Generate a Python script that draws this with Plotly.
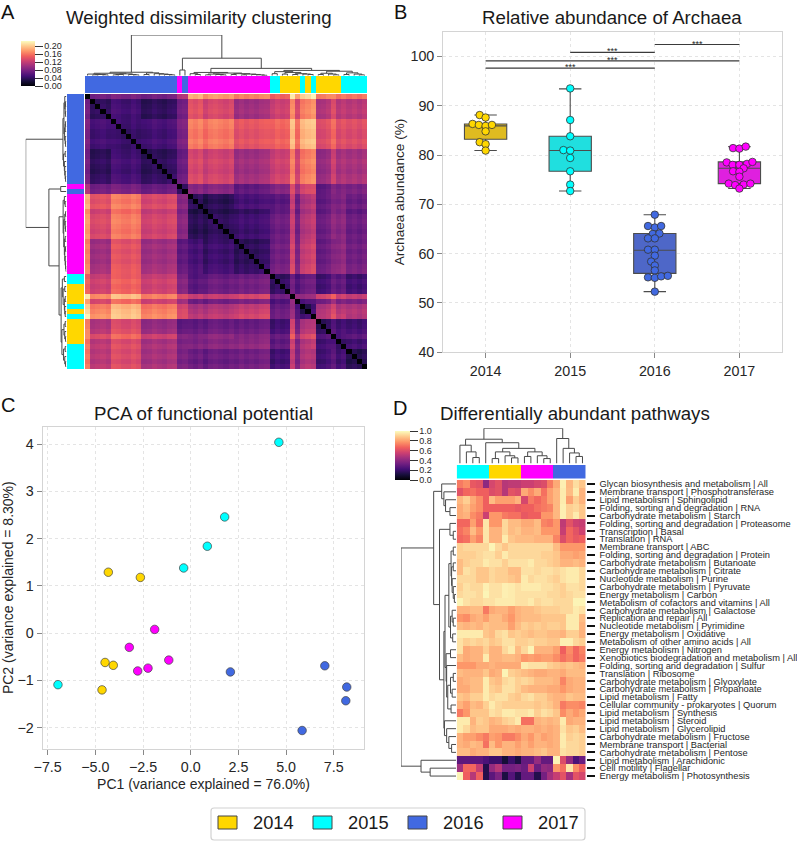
import numpy as np
import plotly.graph_objects as go
from plotly.colors import sequential

W, H = 797, 841
FONT = "Liberation Sans"
TEXT = "#262626"

YEARS = ["2014", "2015", "2016", "2017"]
YEAR_COLORS = ["#FFD700", "#00FFFF", "#4169E1", "#FF00FF"]
BOX_COLORS = ["#DFBB20", "#20DFDF", "#4E67C8", "#DF20DF"]

# panel A, sample order after clustering (index into YEARS)
A_SAMPLE_YEARS = [2] * 18 + [3] + [2] + [3] * 16 + [1] * 2 + [0] * 4 + [1] + [0] + [1] + [0] * 5 + [1] * 5
# runs of samples that look alike in the heatmap
A_SEGMENTS = [1, 4, 6, 7, 2, 3, 6, 7, 4, 1, 1, 2, 1, 3, 1, 2, 4]
# dissimilarity x 1000, upper triangle of the segment table
A_BLOCKS = [
    [0, 75, 80, 75, 110, 185, 175, 165, 150, 215, 180, 205, 220, 165, 170, 160, 160],
    [40, 50, 38, 75, 138, 130, 100, 125, 170, 130, 165, 175, 110, 135, 115, 115],
    [45, 50, 80, 162, 160, 140, 150, 195, 155, 192, 198, 135, 155, 135, 135],
    [38, 70, 130, 125, 100, 125, 165, 125, 162, 170, 95, 125, 105, 105],
    [40, 85, 85, 65, 85, 135, 100, 130, 135, 65, 85, 80, 80],
    [35, 32, 50, 60, 120, 70, 105, 115, 65, 80, 80, 70],
    [35, 45, 70, 120, 72, 108, 118, 70, 90, 85, 70],
    [38, 75, 130, 80, 120, 130, 70, 85, 90, 75],
    [42, 75, 55, 70, 75, 50, 70, 65, 50],
    [0, 95, 95, 100, 130, 150, 125, 120],
    [0, 55, 60, 75, 100, 80, 80],
    [30, 50, 110, 130, 110, 110],
    [0, 115, 140, 120, 110],
    [40, 60, 50, 50],
    [0, 55, 65],
    [40, 50],
    [35],
]
# lighter or darker rows and columns inside a run, x 1000
A_SAMPLE_SHIFT = [0, -3, 0, 3, -2, 4, 2, -3, -4, 3, -2, -4, -2, 4, 0, -3, 3, 5, -2, 2, 3, -2, 5, -6, 3, 6, 2, -2, 4,
                  -4, 3, -3, 2, -2, 4, 6, -5, 3, -2, 2, 0, 0, -3, 3, 0, -4, -2, 4, 0, -3, 4, -3, 2, -4, 3]
A_MAG = [.08, [.05, 20, [.03, 21, 22]],
         [.065, [.04, [.02, 23, 24], [.03, 25, [.02, 26, 27]]],
          [.05, [.03, 28, 29], [.04, [.02, 30, 31], [.03, 32, [.02, 33, [.01, 34, 35]]]]]]]
A_BLUE = [.085, [.06, [.04, 0, [.03, [.02, 1, 2], [.02, 3, 4]]], [.045, [.03, [.02, 5, 6], 7], [.03, 8, [.02, 9, 10]]]],
          [.07, [.03, 11, 12], [.05, 13, [.04, 14, [.03, 15, [.02, 16, 17]]]]]]
A_MIX = [.13, [.1, [.05, 36, 37], [.08, [.04, 38, 39], [.05, [.03, 40, 41], [.04, 42, [.03, 43, 44]]]]],
         [.11, [.06, [.03, 45, 46], [.04, 47, [.02, 48, 49]]], [.07, [.03, 50, 51], [.04, 52, [.02, 53, 54]]]]]
A_TREE = [1.0, A_BLUE, [.43, [.14, 18, 19], [.18, A_MAG, A_MIX]]]

# panel B, box statistics and points
B_Q1 = [83.2, 76.7, 56.0, 74.2]
B_MEDIAN = [85.9, 80.9, 60.7, 77.3]
B_Q3 = [86.3, 83.8, 64.1, 78.6]
B_LOW = [80.9, 72.7, 52.3, 73.2]
B_HIGH = [88.1, 93.4, 67.9, 81.7]
B_OFFSETS = [
    [-.07, 0, -.154, -.08, 0, .075, 0, -.07, 0, 0],
    [0, 0, 0, -.08, 0, 0, 0, 0, 0],
    [0, -.08, 0, .075, -.024, .055, -.08, 0, -.08, 0, 0, -.043, 0, 0, -.08, 0, .075, .154, 0],
    [-.075, 0, .075, -.15, -.08, 0, .09, .154, .05, -.075, 0, 0, -.126, -.05, .05, .13, 0],
]
B_VALUES = [
    [88.1, 87.6, 86.3, 86.1, 85.9, 86.1, 84.8, 82.6, 82.2, 80.9],
    [93.5, 87.1, 83.8, 81.0, 80.9, 79.4, 76.7, 74.0, 72.7],
    [67.9, 65.6, 65.3, 65.6, 64.0, 64.1, 63.1, 63.1, 60.8, 60.8, 59.6, 58.4, 57.6, 56.6, 55.2, 55.1, 55.4, 55.5, 52.3],
    [81.4, 81.3, 81.7, 78.5, 78.0, 78.0, 78.2, 78.6, 77.3, 76.7, 76.6, 75.6, 74.2, 73.9, 74.0, 74.2, 73.2],
]
# significance brackets: first group, second group, height, star position
B_BRACKETS = [(0, 2, 97.6, 1.0), (0, 3, 99.1, 1.5), (1, 2, 100.8, 1.5), (2, 3, 102.4, 2.5)]

# panel C
C_PC1 = [[-4.32, -2.64, -4.49, -4.06, -4.65], [4.62, 1.78, 0.87, -0.37, -6.96],
         [2.08, 7.03, 8.18, 8.13, 5.84], [-1.89, -3.22, -1.15, -2.24, -2.78]]
C_PC2 = [[1.29, 1.18, -0.62, -0.68, -1.2], [4.04, 2.46, 1.84, 1.38, -1.09],
         [-0.82, -0.69, -1.14, -1.43, -2.06], [0.08, -0.30, -0.57, -0.74, -0.80]]

# panel D
D_SAMPLE_YEARS = [1] * 5 + [0] * 5 + [3] * 5 + [2] * 5
D_PATHWAYS = [
    "Glycan biosynthesis and metabolism | All", "Membrane transport | Phosphotransferase",
    "Lipid metabolism | Sphingolipid", "Folding, sorting and degradation | RNA",
    "Carbohydrate metabolism | Starch", "Folding, sorting and degradation | Proteasome",
    "Transcription | Basal", "Translation | RNA", "Membrane transport | ABC",
    "Folding, sorting and degradation | Protein", "Carbohydrate metabolism | Butanoate",
    "Carbohydrate metabolism | Citrate", "Nucleotide metabolism | Purine",
    "Carbohydrate metabolism | Pyruvate", "Energy metabolism | Carbon",
    "Metabolism of cofactors and vitamins | All", "Carbohydrate metabolism | Galactose",
    "Replication and repair | All", "Nucleotide metabolism | Pyrimidine",
    "Energy metabolism | Oxidative", "Metabolism of other amino acids | All",
    "Energy metabolism | Nitrogen", "Xenobiotics biodegradation and metabolism | All",
    "Folding, sorting and degradation | Sulfur", "Translation | Ribosome",
    "Carbohydrate metabolism | Glyoxylate", "Carbohydrate metabolism | Propanoate",
    "Lipid metabolism | Fatty", "Cellular community - prokaryotes | Quorum",
    "Lipid metabolism | Synthesis", "Lipid metabolism | Steroid",
    "Lipid metabolism | Glycerolipid", "Carbohydrate metabolism | Fructose",
    "Membrane transport | Bacterial", "Carbohydrate metabolism | Pentose",
    "Lipid metabolism | Arachidonic", "Cell motility | Flagellar",
    "Energy metabolism | Photosynthesis",
]
D_VALUES = [
    [72, 76, 64, 62, 40, 58, 62, 50, 52, 52, 55, 55, 58, 60, 72, 82, 97, 85, 93, 88],
    [62, 68, 70, 66, 66, 60, 62, 50, 62, 60, 82, 76, 82, 70, 80, 85, 96, 86, 96, 84],
    [85, 90, 82, 76, 66, 86, 80, 80, 80, 84, 58, 72, 68, 72, 80, 85, 96, 80, 90, 84],
    [82, 86, 80, 76, 66, 66, 66, 66, 66, 64, 66, 66, 70, 72, 74, 85, 97, 90, 92, 88],
    [82, 84, 76, 72, 55, 78, 78, 72, 70, 70, 64, 66, 66, 78, 78, 85, 97, 90, 96, 88],
    [68, 68, 80, 70, 95, 78, 78, 92, 86, 86, 82, 82, 86, 74, 72, 78, 52, 62, 56, 54],
    [70, 74, 86, 78, 95, 84, 84, 92, 86, 88, 84, 84, 86, 78, 78, 78, 54, 68, 62, 56],
    [68, 70, 80, 74, 95, 84, 84, 96, 88, 86, 86, 86, 84, 84, 84, 74, 60, 68, 64, 66],
    [90, 92, 92, 92, 92, 98, 92, 88, 92, 92, 92, 92, 92, 92, 92, 86, 78, 78, 78, 78],
    [90, 90, 90, 92, 94, 94, 90, 96, 92, 92, 92, 92, 92, 90, 90, 88, 82, 82, 80, 82],
    [86, 90, 92, 92, 96, 94, 94, 90, 94, 94, 94, 96, 92, 92, 90, 88, 84, 84, 86, 84],
    [86, 94, 92, 88, 88, 92, 90, 90, 86, 86, 94, 94, 92, 94, 94, 92, 94, 96, 96, 92],
    [92, 92, 92, 88, 88, 92, 90, 90, 88, 86, 96, 92, 94, 94, 92, 90, 94, 96, 96, 92],
    [90, 94, 92, 92, 97, 94, 94, 97, 96, 94, 96, 96, 96, 94, 94, 92, 90, 94, 94, 92],
    [92, 94, 94, 92, 98, 94, 94, 97, 96, 94, 94, 94, 94, 94, 92, 92, 90, 92, 94, 94],
    [98, 94, 92, 92, 94, 94, 96, 96, 96, 94, 94, 96, 92, 94, 94, 92, 92, 92, 98, 98],
    [84, 84, 86, 86, 72, 82, 84, 84, 80, 84, 86, 86, 88, 90, 90, 90, 92, 92, 96, 94],
    [78, 76, 82, 84, 80, 86, 86, 82, 78, 84, 86, 86, 86, 88, 88, 88, 88, 96, 96, 86],
    [86, 84, 86, 84, 88, 86, 86, 86, 80, 86, 90, 88, 90, 88, 90, 90, 88, 96, 96, 84],
    [96, 96, 96, 96, 88, 86, 92, 94, 88, 90, 88, 86, 88, 88, 86, 86, 84, 90, 90, 84],
    [94, 90, 92, 90, 92, 88, 90, 94, 94, 90, 90, 92, 90, 90, 88, 88, 97, 97, 92, 90],
    [94, 82, 84, 84, 90, 84, 84, 92, 96, 86, 92, 98, 84, 84, 84, 80, 66, 76, 68, 74],
    [86, 82, 84, 84, 96, 84, 84, 86, 86, 84, 78, 80, 78, 80, 80, 76, 70, 74, 68, 72],
    [78, 78, 78, 82, 82, 84, 82, 82, 82, 82, 96, 94, 94, 94, 90, 88, 86, 88, 86, 84],
    [86, 84, 84, 84, 88, 82, 84, 98, 90, 88, 86, 84, 82, 82, 84, 84, 82, 86, 86, 86],
    [82, 84, 86, 86, 96, 88, 86, 92, 94, 90, 92, 90, 86, 86, 86, 84, 74, 82, 84, 84],
    [82, 82, 86, 86, 96, 90, 88, 94, 94, 90, 86, 84, 84, 84, 82, 82, 78, 82, 84, 84],
    [88, 86, 90, 90, 96, 92, 94, 94, 90, 88, 92, 94, 90, 90, 86, 84, 84, 88, 86, 86],
    [84, 80, 86, 84, 90, 96, 92, 90, 90, 90, 90, 90, 88, 90, 88, 84, 72, 76, 76, 74],
    [72, 78, 88, 88, 88, 94, 92, 96, 96, 94, 94, 96, 90, 94, 92, 88, 76, 82, 78, 82],
    [96, 96, 84, 90, 88, 84, 86, 90, 92, 96, 70, 70, 84, 86, 84, 86, 96, 82, 84, 84],
    [96, 92, 86, 88, 88, 82, 82, 82, 84, 82, 84, 84, 82, 84, 82, 84, 94, 88, 90, 86],
    [84, 80, 80, 76, 72, 80, 78, 72, 72, 76, 82, 78, 84, 80, 82, 84, 96, 90, 92, 90],
    [84, 82, 86, 84, 70, 86, 78, 84, 84, 80, 84, 80, 84, 84, 82, 84, 96, 92, 92, 90],
    [86, 86, 82, 84, 84, 88, 88, 84, 84, 82, 84, 84, 86, 88, 84, 84, 94, 92, 92, 90],
    [28, 28, 28, 28, 24, 20, 20, 10, 20, 12, 30, 30, 42, 30, 30, 98, 60, 42, 24, 32],
    [45, 68, 68, 54, 14, 42, 50, 34, 34, 36, 32, 56, 32, 42, 40, 78, 70, 95, 76, 66],
    [98, 66, 50, 66, 14, 28, 36, 12, 26, 14, 30, 30, 14, 34, 46, 54, 62, 46, 62, 58],
]
D_TOP_TREE = [1.0, [.69, [.52, 0, [.33, 1, [.17, 2, 3]]],
                    [.59, 4, [.43, [.33, [.14, 5, 6], [.22, 7, [.16, 8, 9]]],
                              [.33, [.2, 10, 11], [.22, 12, [.14, 13, 14]]]]]],
              [.71, 15, [.43, 16, [.3, 17, [.2, 18, 19]]]]]
D_LEFT_TREE = [1.0, [.406, [.26, 0, [.22, 1, [.19, 2, [.11, 3, 4]]]],
                     [.30, [.11, 5, [.05, 6, 7]],
                      [.22, [.2, [.13, [.09, [.05, 8, 9], [.08, [.05, 10, 11], [.07, 12, [.05, 13, [.03, 14, 15]]]]],
                                  [.1, [.07, 16, [.05, 17, 18]], [.06, 19, 20]]],
                             [.18, [.1, 21, 22], [.17, 23, [.15, [.1, [.05, 24, 25], [.07, 26, 27]], [.09, 28, 29]]]]],
                       [.21, 30, [.17, 31, [.13, 32, [.08, 33, 34]]]]]]],
               [.636, 35, [.47, 36, 37]]]


def dom_x(left, right):
    return [left / W, right / W]


def dom_y(top, bottom):
    return [1 - bottom / H, 1 - top / H]


def walk_tree(node, xs, ys):
    # returns leaf position and height of a node, collects its bracket
    if not isinstance(node, list):
        return node, 0
    h, a, b = node
    pa, ha = walk_tree(a, xs, ys)
    pb, hb = walk_tree(b, xs, ys)
    xs += [pa, pa, pb, pb, None]
    ys += [ha, h, h, hb, None]
    return (pa + pb) / 2, h


def tree_trace(tree, xa, ya, flip=False):
    pos, height = [], []
    walk_tree(tree, pos, height)
    x, y = (height, pos) if flip else (pos, height)
    return go.Scatter(x=x, y=y, xaxis=xa, yaxis=ya, mode="lines", showlegend=False, hoverinfo="skip",
                      line=dict(color="#4a4a4a", width=1))


def hidden(domain, rng, anchor):
    return dict(domain=domain, range=rng, visible=False, fixedrange=True, anchor=anchor)


year_scale = [[0, YEAR_COLORS[0]], [.25, YEAR_COLORS[0]], [.25, YEAR_COLORS[1]], [.5, YEAR_COLORS[1]],
              [.5, YEAR_COLORS[2]], [.75, YEAR_COLORS[2]], [.75, YEAR_COLORS[3]], [1, YEAR_COLORS[3]]]
magma = sequential.Magma


def strip(codes, xa, ya, vertical=False):
    z = [[c] for c in codes] if vertical else [codes]
    return go.Heatmap(z=z, xaxis=xa, yaxis=ya, colorscale=year_scale, zmin=0, zmax=3, showscale=False, hoverinfo="skip")


# expand segment table to samples
n_seg = len(A_SEGMENTS)
table = np.zeros((n_seg, n_seg))
for i, row in enumerate(A_BLOCKS):
    table[i, i:] = row
    table[i:, i] = row
dist = np.repeat(np.repeat(table, A_SEGMENTS, axis=0), A_SEGMENTS, axis=1)
shift = np.array(A_SAMPLE_SHIFT)
dist = (dist + shift[:, None] + shift[None, :]) / 1000
np.fill_diagonal(dist, 0)

fig = go.Figure()

# panel A
fig.add_trace(go.Heatmap(z=dist, xaxis="x", yaxis="y", colorscale=magma, zmin=0, zmax=.225, hoverinfo="skip",
                         colorbar=dict(x=21 / W, xanchor="left", y=1 - 86 / H, yanchor="bottom", thickness=14,
                                       lenmode="pixels", len=45, xpad=0, ypad=0, outlinewidth=0,
                                       tickvals=[0, .04, .08, .12, .16, .20], ticktext=["0.00", "0.04", "0.08", "0.12", "0.16", "0.20"],
                                       ticks="outside", ticklen=8, tickwidth=1.2, tickcolor="#333",
                                       tickfont=dict(size=9, color=TEXT, family=FONT))))
fig.add_trace(strip(A_SAMPLE_YEARS, "x2", "y2"))
fig.add_trace(strip(A_SAMPLE_YEARS, "x3", "y3", vertical=True))
fig.add_trace(tree_trace(A_TREE, "x4", "y4"))
fig.add_trace(tree_trace(A_TREE, "x5", "y5", flip=True))

# panel B
for k, year in enumerate(YEARS):
    fig.add_trace(go.Box(x=[k], q1=[B_Q1[k]], median=[B_MEDIAN[k]], q3=[B_Q3[k]], lowerfence=[B_LOW[k]],
                         upperfence=[B_HIGH[k]], width=.5, whiskerwidth=.53, fillcolor=BOX_COLORS[k],
                         line=dict(color="#4c4c4c", width=1.1), xaxis="x6", yaxis="y6",
                         showlegend=False, hoverinfo="skip", boxpoints=False))
for k, year in enumerate(YEARS):
    fig.add_trace(go.Scatter(x=[k + o for o in B_OFFSETS[k]], y=B_VALUES[k], xaxis="x6", yaxis="y6", mode="markers",
                             showlegend=False, name=year,
                             marker=dict(size=7.5, color=YEAR_COLORS[k], line=dict(color="#333", width=.8))))
for a, b, level, star in B_BRACKETS:
    fig.add_trace(go.Scatter(x=[a, b], y=[level, level], xaxis="x6", yaxis="y6", mode="lines", showlegend=False,
                             hoverinfo="skip", line=dict(color="#3a3a3a", width=1.2)))
    fig.add_annotation(x=star, y=level, xref="x6", yref="y6", text="***", showarrow=False, yshift=1,
                       font=dict(size=9, color=TEXT, family=FONT))

# panel C
for k, year in enumerate(YEARS):
    fig.add_trace(go.Scatter(x=C_PC1[k], y=C_PC2[k], xaxis="x7", yaxis="y7", mode="markers", showlegend=False, name=year,
                             marker=dict(size=8.5, color=YEAR_COLORS[k], line=dict(color="#444", width=.7))))

# panel D
fig.add_trace(go.Heatmap(z=np.array(D_VALUES) / 100, xaxis="x8", yaxis="y8", colorscale=magma, zmin=0, zmax=1, hoverinfo="skip",
                         colorbar=dict(x=395 / W, xanchor="left", y=1 - 480 / H, yanchor="bottom", thickness=15,
                                       lenmode="pixels", len=49, xpad=0, ypad=0, outlinewidth=0,
                                       tickvals=[0, .2, .4, .6, .8, 1], ticktext=["0.0", "0.2", "0.4", "0.6", "0.8", "1.0"],
                                       ticks="outside", ticklen=8, tickwidth=1.2, tickcolor="#333",
                                       tickfont=dict(size=9, color=TEXT, family=FONT))))
fig.add_trace(strip(D_SAMPLE_YEARS, "x9", "y9"))
fig.add_trace(tree_trace(D_TOP_TREE, "x10", "y10"))
fig.add_trace(tree_trace(D_LEFT_TREE, "x11", "y11", flip=True))

axis_style = dict(showgrid=True, gridcolor="#e4e4e4", griddash="dot", gridwidth=.8, zeroline=False, showline=True,
                  mirror=True, linecolor="#d4d4d4", linewidth=1.2, ticks="outside", ticklen=5, tickcolor="#888",
                  tickfont=dict(size=14.3, color=TEXT, family=FONT), fixedrange=True)

n_a = len(A_SAMPLE_YEARS)
n_d = len(D_SAMPLE_YEARS)
n_p = len(D_PATHWAYS)
fig.update_layout(
    width=W, height=H, margin=dict(l=0, r=0, t=0, b=0, autoexpand=False), paper_bgcolor="white", plot_bgcolor="white",
    font=dict(family=FONT, color=TEXT), showlegend=False,
    xaxis=hidden(dom_x(85, 367), [-.5, n_a - .5], "y"), yaxis=hidden(dom_y(94, 369), [n_a - .5, -.5], "x"),
    xaxis2=hidden(dom_x(85, 367), [-.5, n_a - .5], "y2"), yaxis2=hidden(dom_y(76, 93), [-.5, .5], "x2"),
    xaxis3=hidden(dom_x(67, 84), [-.5, .5], "y3"), yaxis3=hidden(dom_y(94, 369), [n_a - .5, -.5], "x3"),
    xaxis4=hidden(dom_x(85, 367), [-.5, n_a - .5], "y4"), yaxis4=hidden(dom_y(35, 75.7), [0, 1], "x4"),
    xaxis5=hidden(dom_x(25.7, 66.4), [1, 0], "y5"), yaxis5=hidden(dom_y(94, 369), [n_a - .5, -.5], "x5"),
    xaxis6=dict(axis_style, domain=dom_x(443.3, 781.7), range=[-.5, 3.5], tickvals=list(range(4)), ticktext=YEARS, anchor="y6"),
    yaxis6=dict(axis_style, domain=dom_y(31.7, 352.3), range=[40, 105], tickvals=[40, 50, 60, 70, 80, 90, 100], anchor="x6",
                title=dict(text="Archaea abundance (%)", font=dict(size=13.6, color=TEXT, family=FONT), standoff=2)),
    xaxis7=dict(axis_style, domain=dom_x(42.7, 364.3), range=[-7.76, 9.1], tickvals=[-7.5, -5, -2.5, 0, 2.5, 5, 7.5], anchor="y7",
                ticktext=["\u22127.5", "\u22125.0", "\u22122.5", "0.0", "2.5", "5.0", "7.5"],
                title=dict(text="PC1 (variance explained = 76.0%)", font=dict(size=14, color=TEXT, family=FONT), standoff=5)),
    yaxis7=dict(axis_style, domain=dom_y(426.7, 748.7), range=[-2.445, 4.37], tickvals=[-2, -1, 0, 1, 2, 3, 4], anchor="x7",
                ticktext=["\u22122", "\u22121", "0", "1", "2", "3", "4"],
                title=dict(text="PC2 (variance explained = 8.30%)", font=dict(size=14, color=TEXT, family=FONT), standoff=8)),
    xaxis8=hidden(dom_x(456.7, 585.7), [-.5, n_d - .5], "y8"),
    yaxis8=dict(domain=dom_y(480, 780), range=[n_p - .5, -.5], side="right", anchor="x8", tickvals=list(range(n_p)),
                ticktext=D_PATHWAYS, ticks="outside", ticklen=8, tickwidth=1.5, tickcolor="#111", showline=False,
                showgrid=False, zeroline=False, tickfont=dict(size=9.3, color=TEXT, family=FONT), fixedrange=True,
                ticklabelstandoff=3),
    xaxis9=hidden(dom_x(456.7, 585.7), [-.5, n_d - .5], "y9"), yaxis9=hidden(dom_y(465, 478.5), [-.5, .5], "x9"),
    xaxis10=hidden(dom_x(456.7, 585.7), [-.5, n_d - .5], "y10"), yaxis10=hidden(dom_y(428.3, 463.5), [0, 1], "x10"),
    xaxis11=hidden(dom_x(401, 456), [1, 0], "y11"), yaxis11=hidden(dom_y(480, 780), [n_p - .5, -.5], "x11"),
)

# titles and panel letters
titles = [("Weighted dissimilarity clustering", 199, 17), ("Relative abundance of Archaea", 612, 18),
          ("PCA of functional potential", 203, 414), ("Differentially abundant pathways", 575, 414)]
for text, px, py in titles:
    fig.add_annotation(x=px / W, y=1 - py / H, xref="paper", yref="paper", text=text, showarrow=False,
                       font=dict(size=18.7, color="#1a1a1a", family=FONT), xanchor="center", yanchor="middle")
letters = [("A", 8, 12), ("B", 400, 12), ("C", 8, 405), ("D", 400, 408)]
for text, px, py in letters:
    fig.add_annotation(x=px / W, y=1 - py / H, xref="paper", yref="paper", text=text, showarrow=False,
                       font=dict(size=20, color="#111", family=FONT), xanchor="center", yanchor="middle")

# shared legend box
fig.add_shape(type="path", xref="paper", yref="paper", line=dict(color="#d2d2d2", width=1.2), fillcolor="white",
              path=f"M {214 / W} {1 - 808 / H} L {582 / W} {1 - 808 / H} Q {585 / W} {1 - 808 / H} {585 / W} {1 - 811 / H} "
                   f"L {585 / W} {1 - 837 / H} Q {585 / W} {1 - 840 / H} {582 / W} {1 - 840 / H} L {214 / W} {1 - 840 / H} "
                   f"Q {211 / W} {1 - 840 / H} {211 / W} {1 - 837 / H} L {211 / W} {1 - 811 / H} Q {211 / W} {1 - 808 / H} {214 / W} {1 - 808 / H} Z")
legend_left = [218, 313, 408, 503]
for k, year in enumerate(YEARS):
    sx = legend_left[k]
    fig.add_shape(type="rect", xref="paper", yref="paper", x0=sx / W, x1=(sx + 19) / W, y0=1 - 829 / H, y1=1 - 816 / H,
                  fillcolor=YEAR_COLORS[k], line=dict(color="#444", width=1))
    fig.add_annotation(x=(sx + 33) / W, y=1 - 822.5 / H, xref="paper", yref="paper", text=year, showarrow=False,
                       xanchor="left", yanchor="middle", font=dict(size=18.3, color="#1a1a1a", family=FONT))

# the page body has a default margin, drop it so the figure fills the window
fig.write_html("out.html", post_script="document.body.style.margin='0';", config={"displayModeBar": False})
